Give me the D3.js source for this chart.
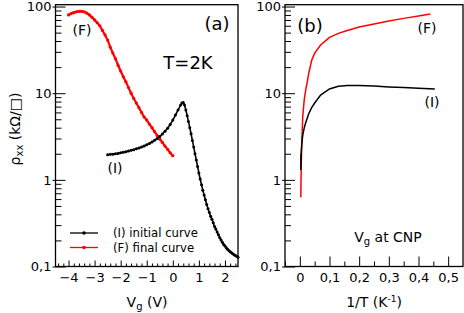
<!DOCTYPE html>
<html>
<head>
<meta charset="utf-8">
<script src="https://cdn.jsdelivr.net/npm/d3@7"></script>
<style>
  body { margin: 0; background: #fff; }
  text { font-family: "DejaVu Sans", sans-serif; }
</style>
</head>
<body>
<div id="chart"></div>
<script>
// panel (a): rho_xx vs Vg at T=2K
var vgInitial = [-2.5, -2.4, -2.3, -2.2, -2.1, -2.0, -1.9, -1.8, -1.7, -1.6,
  -1.5, -1.4, -1.3, -1.2, -1.1, -1.0, -0.9, -0.8, -0.7, -0.6,
  -0.5, -0.4, -0.3, -0.2, -0.1, 0.0, 0.1, 0.2, 0.3, 0.35,
  0.4, 0.45, 0.5, 0.55, 0.6, 0.65, 0.7, 0.75, 0.8, 0.85,
  0.9, 0.95, 1.0, 1.05, 1.1, 1.15, 1.2, 1.25, 1.3, 1.35,
  1.4, 1.45, 1.5, 1.55, 1.6, 1.65, 1.7, 1.75, 1.8, 1.85,
  1.9, 1.95, 2.0, 2.05, 2.1, 2.15, 2.2, 2.25, 2.3, 2.35,
  2.4, 2.45, 2.5];
var rhoInitial = [1.95, 1.97, 1.98, 2.0, 2.02, 2.05, 2.08, 2.11, 2.15, 2.19,
  2.23, 2.28, 2.33, 2.39, 2.46, 2.54, 2.63, 2.74, 2.86, 3.0,
  3.17, 3.38, 3.63, 3.95, 4.35, 4.9, 5.6, 6.4, 7.3, 7.7,
  7.8, 7.3, 6.4, 5.5, 4.7, 4.0, 3.4, 2.85, 2.4, 2.0,
  1.7, 1.43, 1.2, 1.02, 0.88, 0.76, 0.67, 0.59, 0.52, 0.465,
  0.42, 0.38, 0.35, 0.32, 0.29, 0.27, 0.25, 0.232, 0.215, 0.202,
  0.19, 0.18, 0.172, 0.165, 0.158, 0.153, 0.148, 0.144, 0.14, 0.137,
  0.134, 0.131, 0.128];

var vgFinal = [-4.0, -3.9, -3.8, -3.7, -3.6, -3.5, -3.4, -3.3, -3.2, -3.1,
  -3.0, -2.9, -2.8, -2.7, -2.6, -2.5, -2.4, -2.3, -2.2, -2.1,
  -2.0, -1.9, -1.8, -1.7, -1.6, -1.5, -1.4, -1.3, -1.2, -1.1,
  -1.0, -0.9, -0.8, -0.7, -0.6, -0.5, -0.4, -0.3, -0.2, -0.1, 0.0];
var rhoFinal = [80, 83, 85, 87, 88, 88, 87, 84, 80, 75,
  70, 65, 60, 53, 47, 41, 34, 29, 25, 21,
  18, 15.5, 13.5, 11.6, 10, 8.7, 7.7, 6.8, 6.0, 5.3,
  4.9, 4.4, 4.0, 3.6, 3.25, 2.95, 2.7, 2.45, 2.25, 2.05, 1.9];

// panel (b): rho_xx at CNP vs 1/T
var invTInitial = [0.0033, 0.0036, 0.004, 0.005, 0.007, 0.01, 0.015, 0.02, 0.03, 0.04,
  0.05, 0.07, 0.1, 0.13, 0.16, 0.2, 0.25, 0.3, 0.35, 0.4, 0.455];
var rhoTInitial = [1.3, 2.0, 1.5, 2.2, 2.7, 3.3, 4.0, 4.6, 5.8, 6.8,
  7.7, 9.5, 11.2, 12.0, 12.3, 12.3, 12.1, 11.8, 11.6, 11.4, 11.2];

var invTFinal = [0.0033, 0.004, 0.005, 0.007, 0.01, 0.015, 0.02, 0.025, 0.03, 0.04,
  0.05, 0.07, 0.1, 0.13, 0.16, 0.2, 0.25, 0.3, 0.35, 0.4, 0.44];
var rhoTFinal = [0.63, 1.0, 1.6, 3.0, 5.5, 8.5, 11, 13.5, 17, 24,
  29, 36, 44, 49, 53, 58, 63, 68, 73, 78, 82];

// ticks
var yTicks = [0.1, 1, 10, 100];
var yTickLabels = ["0,1", "1", "10", "100"];
var vgTicks = [-4, -3, -2, -1, 0, 1, 2];
var invTTicks = [0, 0.1, 0.2, 0.3, 0.4, 0.5];
var invTTickLabels = ["0", "0,1", "0,2", "0,3", "0,4", "0,5"];

var width = 464, height = 313;
var plotTop = 4.7, plotBottom = 266.5;

var svg = d3.select("#chart")
  .append("svg")
    .attr("width", width)
    .attr("height", height);

var y = d3.scaleLog()
  .domain([0.1, 105])
  .range([plotBottom, plotTop]);

// minor log ticks 2..9 for each decade
var yMinor = [];
[0.1, 1, 10].forEach(function(d) {
  for (var k = 2; k <= 9; k++) yMinor.push(d * k);
});

var xA = d3.scaleLinear().domain([-4.5, 2.5]).range([55.5, 238]);
var xB = d3.scaleLinear().domain([-0.05, 0.55]).range([285, 463]);

function drawFrame(x) {
  var g = svg.append("g");
  var x0 = x.range()[0], x1 = x.range()[1];

  // y major ticks inward + short outward stub
  g.append("g")
    .attr("transform", "translate(" + x0 + ",0)")
    .call(d3.axisLeft(y).tickValues(yTicks).tickSizeInner(-10).tickSizeOuter(0)
      .tickPadding(4).tickFormat(function(d, i) { return yTickLabels[i]; }))
    .call(function(a) { a.select(".domain").remove(); })
    .selectAll("text")
      .style("font-size", "13px")
      .style("font-family", "DejaVu Sans");
  g.append("g")
    .attr("transform", "translate(" + x0 + ",0)")
    .call(d3.axisLeft(y).tickValues(yTicks).tickSize(3).tickFormat(""))
    .call(function(a) { a.select(".domain").remove(); });
  g.append("g")
    .attr("transform", "translate(" + x0 + ",0)")
    .call(d3.axisLeft(y).tickValues(yMinor).tickSize(-6).tickFormat(""))
    .call(function(a) { a.select(".domain").remove(); });

  g.append("rect")
    .attr("x", x0)
    .attr("y", plotTop)
    .attr("width", x1 - x0)
    .attr("height", plotBottom - plotTop)
    .attr("fill", "none")
    .attr("stroke", "#000")
    .attr("stroke-width", 1.3);
  return g;
}

var lineA = d3.line()
  .x(function(d) { return xA(d[0]); })
  .y(function(d) { return y(d[1]); });
var lineB = d3.line()
  .x(function(d) { return xB(d[0]); })
  .y(function(d) { return y(d[1]); });

// ---------- panel (a)
var ga = drawFrame(xA);

var vgMinor = d3.range(-4.4, 2.5, 0.2).filter(function(v) {
  return Math.abs(v - Math.round(v)) > 0.01;
});
ga.append("g")
  .attr("transform", "translate(0," + plotBottom + ")")
  .call(d3.axisBottom(xA).tickValues(vgMinor).tickSize(-3).tickFormat(""))
  .call(function(a) { a.select(".domain").remove(); });
ga.append("g")
  .attr("transform", "translate(0," + plotBottom + ")")
  .call(d3.axisBottom(xA).tickValues(vgTicks).tickSizeInner(-6).tickSizeOuter(0)
    .tickPadding(6).tickFormat(d3.format("d")))
  .call(function(a) { a.select(".domain").remove(); })
  .selectAll("text")
    .style("font-size", "13px")
    .style("font-family", "DejaVu Sans");

var initialData = d3.zip(vgInitial, rhoInitial);
var finalData = d3.zip(vgFinal, rhoFinal);

ga.append("path")
  .datum(finalData)
  .attr("fill", "none")
  .attr("stroke", "#ff0000")
  .attr("stroke-width", 2.2)
  .attr("d", lineA);
ga.selectAll(".fdot")
  .data(finalData)
  .enter()
  .append("circle")
    .attr("cx", function(d) { return xA(d[0]); })
    .attr("cy", function(d) { return y(d[1]); })
    .attr("r", 1.6)
    .attr("fill", "#ff0000");

ga.append("path")
  .datum(initialData)
  .attr("fill", "none")
  .attr("stroke", "#000")
  .attr("stroke-width", 1.6)
  .attr("d", lineA);
ga.selectAll(".idot")
  .data(initialData)
  .enter()
  .append("circle")
    .attr("cx", function(d) { return xA(d[0]); })
    .attr("cy", function(d) { return y(d[1]); })
    .attr("r", 1.5)
    .attr("fill", "#000");

ga.append("text").attr("x", 217).attr("y", 30).attr("text-anchor", "middle")
  .style("font-size", "18px").text("(a)");
ga.append("text").attr("x", 188).attr("y", 69).attr("text-anchor", "middle")
  .style("font-size", "18px").text("T=2K");
ga.append("text").attr("x", 82).attr("y", 35).attr("text-anchor", "middle")
  .style("font-size", "14px").text("(F)");
ga.append("text").attr("x", 115).attr("y", 173).attr("text-anchor", "middle")
  .style("font-size", "14px").text("(I)");

// legend
var legend = [["(I) initial curve", "#000"], ["(F) final curve", "#ff0000"]];
legend.forEach(function(l, i) {
  var ly = 233 + i * 14.5;
  ga.append("line").attr("x1", 70).attr("x2", 98).attr("y1", ly).attr("y2", ly)
    .attr("stroke", l[1]).attr("stroke-width", 1.3);
  ga.append("circle").attr("cx", 84).attr("cy", ly).attr("r", 1.8).attr("fill", l[1]);
  ga.append("text").attr("x", 113).attr("y", ly + 4).style("font-size", "11.7px").text(l[0]);
});

// x label (a)
var xla = ga.append("text").attr("x", 147).attr("y", 307).attr("text-anchor", "middle")
  .style("font-size", "14px");
xla.append("tspan").text("V");
xla.append("tspan").attr("baseline-shift", "-25%").style("font-size", "10px").text("g");
xla.append("tspan").text(" (V)");

// y label
var yl = svg.append("text")
  .attr("transform", "translate(20,129) rotate(-90)")
  .attr("text-anchor", "middle")
  .style("font-size", "14px");
yl.append("tspan").text("ρ");
yl.append("tspan").attr("baseline-shift", "-25%").style("font-size", "10px").text("xx");
yl.append("tspan").text(" (kΩ/□)");

// ---------- panel (b)
var gb = drawFrame(xB);

var invTMinor = [-0.05, 0.05, 0.15, 0.25, 0.35, 0.45];
gb.append("g")
  .attr("transform", "translate(0," + plotBottom + ")")
  .call(d3.axisBottom(xB).tickValues(invTMinor).tickSize(-5).tickFormat(""))
  .call(function(a) { a.select(".domain").remove(); });
gb.append("g")
  .attr("transform", "translate(0," + plotBottom + ")")
  .call(d3.axisBottom(xB).tickValues(invTTicks).tickSizeInner(-10).tickSizeOuter(0)
    .tickPadding(6).tickFormat(function(d, i) { return invTTickLabels[i]; }))
  .call(function(a) { a.select(".domain").remove(); })
  .selectAll("text")
    .style("font-size", "13px")
    .style("font-family", "DejaVu Sans");

gb.append("path")
  .datum(d3.zip(invTFinal, rhoTFinal))
  .attr("fill", "none")
  .attr("stroke", "#ff0000")
  .attr("stroke-width", 1.5)
  .attr("d", lineB);
gb.append("path")
  .datum(d3.zip(invTInitial, rhoTInitial))
  .attr("fill", "none")
  .attr("stroke", "#000")
  .attr("stroke-width", 1.5)
  .attr("d", lineB);

gb.append("text").attr("x", 310).attr("y", 32).attr("text-anchor", "middle")
  .style("font-size", "18px").text("(b)");
gb.append("text").attr("x", 427).attr("y", 33).attr("text-anchor", "middle")
  .style("font-size", "14px").text("(F)");
gb.append("text").attr("x", 432).attr("y", 107).attr("text-anchor", "middle")
  .style("font-size", "14px").text("(I)");

var cnp = gb.append("text").attr("x", 388).attr("y", 242).attr("text-anchor", "middle")
  .style("font-size", "14px");
cnp.append("tspan").text("V");
cnp.append("tspan").attr("baseline-shift", "-25%").style("font-size", "10px").text("g");
cnp.append("tspan").text(" at CNP");

var xlb = gb.append("text").attr("x", 374).attr("y", 307).attr("text-anchor", "middle")
  .style("font-size", "14px");
xlb.append("tspan").text("1/T (K");
xlb.append("tspan").attr("baseline-shift", "super").style("font-size", "9px").text("-1");
xlb.append("tspan").text(")");
</script>
</body>
</html>
